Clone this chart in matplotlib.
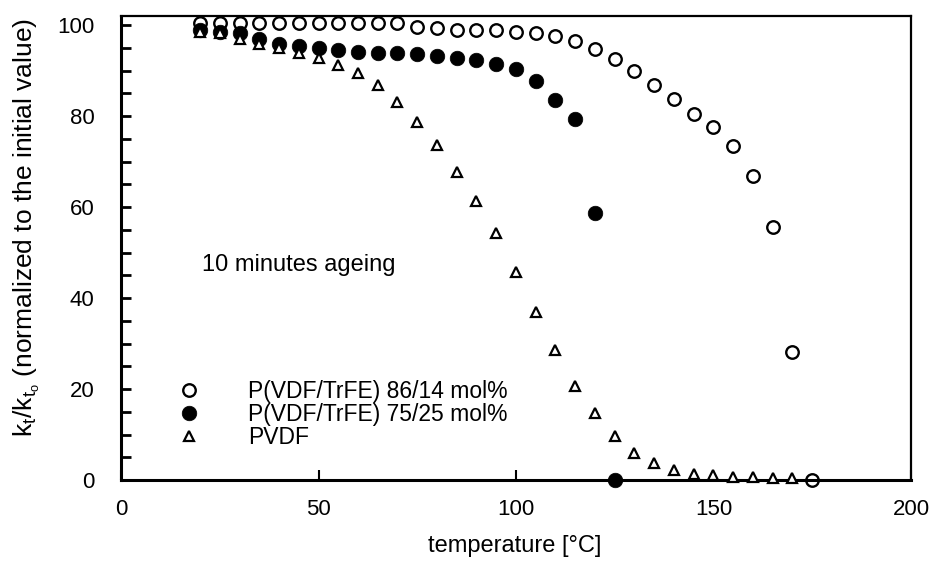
import matplotlib.pyplot as plt
from matplotlib.ticker import MultipleLocator

plt.rcParams['font.family'] = ['Liberation Sans', 'DejaVu Sans']
plt.rcParams['mathtext.fontset'] = 'custom'
plt.rcParams['mathtext.rm'] = 'Liberation Sans'
plt.rcParams['mathtext.it'] = 'Liberation Sans'

# ageing temperatures [°C] and normalised k_t/k_t0 [%] for each film
temp_86_14 = [20, 25, 30, 35, 40, 45, 50, 55, 60, 65, 70, 75, 80, 85, 90, 95,
              100, 105, 110, 115, 120, 125, 130, 135, 140, 145, 150, 155, 160,
              165, 170, 175]
k_86_14 = [100.4, 100.4, 100.4, 100.4, 100.4, 100.4, 100.4, 100.4, 100.4,
           100.4, 100.4, 99.6, 99.3, 98.9, 98.9, 98.9, 98.5, 98.2, 97.6, 96.4,
           94.7, 92.5, 89.8, 86.8, 83.7, 80.4, 77.6, 73.5, 66.9, 55.5, 28.1,
           0.0]

temp_75_25 = [20, 25, 30, 35, 40, 45, 50, 55, 60, 65, 70, 75, 80, 85, 90, 95,
              100, 105, 110, 115, 120, 125]
k_75_25 = [98.9, 98.5, 98.2, 97.0, 95.9, 95.5, 94.9, 94.5, 94.1, 93.9, 93.8,
           93.6, 93.3, 92.7, 92.3, 91.5, 90.4, 87.7, 83.5, 79.3, 58.6, 0.0]

temp_pvdf = [20, 25, 30, 35, 40, 45, 50, 55, 60, 65, 70, 75, 80, 85, 90, 95,
             100, 105, 110, 115, 120, 125, 130, 135, 140, 145, 150, 155, 160,
             165, 170]
k_pvdf = [98.5, 98.3, 97.0, 95.9, 94.9, 93.8, 92.7, 91.2, 89.4, 86.8, 83.1,
          78.7, 73.6, 67.8, 61.4, 54.2, 45.8, 37.0, 28.6, 20.7, 14.7, 9.7, 6.0,
          3.8, 2.2, 1.3, 1.1, 0.7, 0.6, 0.5, 0.5]

labels = ['P(VDF/TrFE) 86/14 mol%', 'P(VDF/TrFE) 75/25 mol%', 'PVDF']

fig = plt.figure(figsize=(9.33, 5.63), dpi=100)
ax = fig.add_axes([0.1297, 0.1474, 0.8467, 0.8243])

h_open, = ax.plot(temp_86_14, k_86_14, 'o', ms=9, mfc='none', mec='black',
                  mew=1.7, clip_on=False, zorder=4)
h_fill, = ax.plot(temp_75_25, k_75_25, 'o', ms=10.5, mfc='black', mec='black',
                  mew=0.5, clip_on=False, zorder=3)
h_tri, = ax.plot(temp_pvdf, k_pvdf, '^', ms=7.5, mfc='white', mec='black',
                 mew=1.6, clip_on=False, zorder=5)

ax.set_xlim(0, 200)
ax.set_ylim(0, 102)
ax.xaxis.set_major_locator(MultipleLocator(50))
ax.yaxis.set_major_locator(MultipleLocator(20))
ax.yaxis.set_minor_locator(MultipleLocator(5))

ax.tick_params(axis='x', which='major', direction='in', length=7, width=1.5,
               labelsize=16, pad=14)
ax.tick_params(axis='y', which='both', direction='in', length=7, width=2,
               labelsize=16, pad=19)

for side in ['left', 'bottom']:
    ax.spines[side].set_linewidth(2.2)
for side in ['top', 'right']:
    ax.spines[side].set_linewidth(1.6)

ax.set_xlabel('temperature [°C]', fontsize=17)
ax.set_ylabel(r'k$_t$/k$_{t_o}$ (normalized to the initial value)', fontsize=19)
ax.yaxis.set_label_coords(-0.1, 0.545)
ax.xaxis.set_label_coords(0.498, -0.118)

ax.text(20.5, 47.3, '10 minutes ageing', fontsize=17, va='center')

ax.legend([h_open, h_fill, h_tri], labels, loc='upper left',
          bbox_to_anchor=(0.072, 0.215), frameon=False, fontsize=16.5,
          handlelength=1.0, handletextpad=2.05, labelspacing=0.0,
          borderpad=0, borderaxespad=0)

fig.savefig('out.png', dpi=100)
